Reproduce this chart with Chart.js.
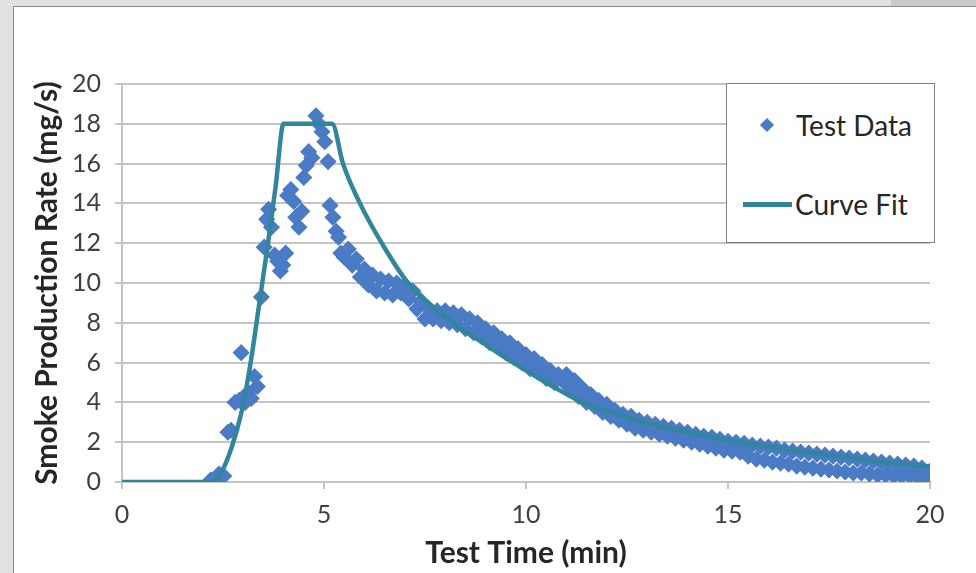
<!DOCTYPE html>
<html>
<head>
<meta charset="utf-8">
<script src="https://cdn.jsdelivr.net/npm/chart.js@4.4.1/dist/chart.umd.min.js"></script>
<style>
    html, body { margin: 0; padding: 0; }
    body { width: 976px; height: 573px; background: #e0e1e3; position: relative; overflow: hidden; font-family: Lato, "Open Sans", sans-serif; }
    #corner { position: absolute; left: 891px; top: 0; width: 85px; height: 6px; background: #c7c9cd; }
    #panel { position: absolute; left: 13px; top: 6px; right: 0; bottom: 0; background: #fff; border-left: 1.5px solid #8a8a8a; border-top: 1.5px solid #8a8a8a; }
    #chart { position: absolute; left: 0; top: 0; }
    #legend { position: absolute; left: 726px; top: 83px; width: 207px; height: 158px; border: 1.5px solid #808080; background: #fff; color: #262626; font-size: 28px; }
    .item { position: absolute; height: 32px; line-height: 32px; }
    .diamond { position: absolute; width: 10px; height: 10px; background: #4a7bc4; transform: rotate(45deg); }
    .swatch { position: absolute; height: 5px; background: #31859c; }
</style>
</head>
<body>
<div id="corner"></div>
<div id="panel"></div>
<canvas id="chart" width="976" height="573"></canvas>
<div id="legend">
    <div class="diamond" style="left:35px; top:36px;"></div>
    <div class="item" style="left:69px; top:25px;">Test Data</div>
    <div class="swatch" style="left:16px; top:118px; width:49px;"></div>
    <div class="item" style="left:68px; top:104px;">Curve Fit</div>
</div>
<script>
// Curve fit (mg/s vs min)
const fitTime = [0, 2.2, 2.4, 2.6, 2.8, 3.0, 3.2, 3.4, 3.6, 3.8, 4.0, 5.2, 5.47, 5.89, 6.43, 7.08, 8.2, 9.0, 9.68, 10.5, 11.4, 12.2, 13.0, 14.0, 15.0, 16.0, 17.5, 19.0, 20.0];
const fitRate = [0, 0, 0.3, 1.1, 2.3, 3.9, 6.2, 9.0, 11.8, 14.8, 18, 18, 16, 14, 12, 10, 8, 6.9, 6.0, 5.0, 4.0, 3.45, 2.95, 2.5, 2.1, 1.78, 1.35, 0.97, 0.78];

// Test data
const testTime = [
    2.15, 2.2, 2.27, 2.33, 2.4, 2.45, 2.52, 2.62, 2.7, 2.8, 2.9, 2.95, 3.05, 3.12, 3.2, 3.28, 3.35, 3.45, 3.52, 3.58,
    3.63, 3.7, 3.78, 3.85, 3.92, 3.98, 4.05, 4.1, 4.18, 4.25, 4.3, 4.38, 4.45, 4.5, 4.56, 4.62, 4.7, 4.8, 4.87, 4.95,
    5.02, 5.1, 5.15, 5.22, 5.3, 5.36, 5.42,
    5.5, 5.6, 5.7, 5.8, 5.9, 6.0, 6.1, 6.2, 6.3, 6.4, 6.5, 6.6, 6.7, 6.8, 6.9, 7.0, 7.1, 7.2, 7.3, 7.4,
    7.5, 7.6, 7.7, 7.8, 7.9, 8.0, 8.1, 8.2, 8.3, 8.4, 8.5, 8.6, 8.7, 8.8, 8.9, 9.0, 9.1, 9.2, 9.3, 9.4,
    9.5, 9.6, 9.7, 9.8, 9.9, 10.0, 10.1, 10.2, 10.3, 10.4, 10.5, 10.6, 10.7, 10.8, 10.9, 11.0, 11.1, 11.2, 11.3, 11.4,
    11.5, 11.6, 11.7, 11.8, 11.9, 12.0, 12.1, 12.2, 12.3, 12.4, 12.5, 12.6, 12.7, 12.8, 12.9, 13.0, 13.1, 13.2, 13.3, 13.4,
    13.5, 13.6, 13.7, 13.8, 13.9, 14.0, 14.1, 14.2, 14.3, 14.4, 14.5, 14.6, 14.7, 14.8, 14.9, 15.0, 15.1, 15.2, 15.3, 15.4,
    15.5, 15.6, 15.7, 15.8, 15.9, 16.0, 16.1, 16.2, 16.3, 16.4, 16.5, 16.6, 16.7, 16.8, 16.9, 17.0, 17.1, 17.2, 17.3, 17.4,
    17.5, 17.6, 17.7, 17.8, 17.9, 18.0, 18.1, 18.2, 18.3, 18.4, 18.5, 18.6, 18.7, 18.8, 18.9, 19.0, 19.1, 19.2, 19.3, 19.4,
    19.5, 19.6, 19.7, 19.8, 19.9, 20.0
];
const testRate = [
    0.0, 0.1, 0.0, 0.2, 0.4, 0.2, 0.3, 2.5, 2.6, 4.0, 4.1, 6.5, 4.0, 4.5, 4.2, 5.3, 4.8, 9.3, 11.8, 13.2,
    13.7, 12.8, 11.4, 11.1, 10.6, 10.9, 11.5, 14.4, 14.7, 14.1, 13.3, 12.8, 13.6, 15.3, 15.9, 16.6, 16.3, 18.4, 18.0, 17.6,
    17.1, 16.1, 13.9, 13.3, 12.6, 12.3, 11.5,
    11.3, 11.7, 10.9, 11.2, 10.3, 10.7, 9.9, 10.4, 9.6, 10.2, 9.5, 10.1, 9.4, 10.0, 9.5, 9.9, 9.2, 9.6, 8.7, 9.1,
    8.2, 8.7, 8.2, 8.6, 8.1, 8.6, 8.0, 8.5, 7.9, 8.4, 7.7, 8.2, 7.5, 8.0, 7.3, 7.7, 7.0, 7.5, 6.8, 7.2,
    6.5, 7.0, 6.3, 6.7, 6.0, 6.4, 5.7, 6.2, 5.5, 5.9, 5.2, 5.6, 5.0, 5.4, 5.1, 5.4, 4.7, 5.1, 4.3, 4.7,
    4.0, 4.4, 3.8, 4.1, 3.5, 3.9, 3.3, 3.6, 3.1, 3.4, 2.9, 3.3, 2.7, 3.1, 2.6, 3.0, 2.5, 2.9, 2.4, 2.8,
    2.3, 2.7, 2.2, 2.6, 2.1, 2.5, 2.0, 2.4, 1.9, 2.3, 1.8, 2.25, 1.7, 2.15, 1.6, 2.05, 1.55, 2.0, 1.5, 1.95,
    1.3, 1.85, 1.15, 1.8, 1.1, 1.75, 1.0, 1.7, 0.95, 1.6, 0.9, 1.55, 0.8, 1.5, 0.75, 1.45, 0.7, 1.4, 0.65, 1.35,
    0.6, 1.3, 0.55, 1.25, 0.5, 1.2, 0.45, 1.15, 0.45, 1.1, 0.4, 1.05, 0.35, 1.0, 0.35, 0.95, 0.3, 0.9, 0.3, 0.85,
    0.3, 0.8, 0.25, 0.7, 0.25, 0.55
];

const xTicks = [0, 5, 10, 15, 20];
const yTicks = [0, 2, 4, 6, 8, 10, 12, 14, 16, 18, 20];

const FONT = 'Lato, "Open Sans", sans-serif';
const GRID = '#c4c4c4';

const chart = new Chart(document.getElementById('chart').getContext('2d'), {
    type: 'scatter',
    data: {
        datasets: [
            {
                label: 'Curve Fit',
                data: fitTime.map((t, i) => ({ x: t, y: fitRate[i] })),
                showLine: true,
                borderColor: '#31859c',
                borderWidth: 4.5,
                pointRadius: 0,
                cubicInterpolationMode: 'monotone',
                order: 0
            },
            {
                label: 'Test Data',
                data: testTime.map((t, i) => ({ x: t, y: testRate[i] })),
                pointStyle: 'rectRot',
                pointRadius: 7.5,
                backgroundColor: '#4a7bc4',
                borderColor: '#4a7bc4',
                borderWidth: 1.5,
                order: 1
            }
        ]
    },
    options: {
        responsive: false,
        animation: false,
        layout: { padding: { left: 24, top: 84, right: 46, bottom: 2 } },
        plugins: { legend: { display: false }, tooltip: { enabled: false } },
        scales: {
            x: {
                type: 'linear',
                min: 0,
                max: 20,
                afterBuildTicks: s => { s.ticks = xTicks.map(v => ({ value: v })); },
                afterFit: s => { s.height = 89; },
                ticks: { color: '#404040', font: { family: FONT, size: 25 }, padding: 11 },
                grid: { drawOnChartArea: false, drawTicks: true, tickLength: 7, color: GRID, lineWidth: 2 },
                border: { color: GRID, width: 2 },
                title: { display: true, text: 'Test Time (min)', color: '#262626', font: { family: FONT, size: 30, weight: 'bold' }, padding: { top: 0, bottom: 0 } }
            },
            y: {
                min: 0,
                max: 20,
                afterBuildTicks: s => { s.ticks = yTicks.map(v => ({ value: v })); },
                afterFit: s => { s.width = 98; },
                ticks: { color: '#404040', font: { family: FONT, size: 25 }, padding: 14 },
                grid: { color: GRID, lineWidth: 2, tickLength: 7 },
                border: { color: GRID, width: 2 },
                title: { display: true, text: 'Smoke Production Rate (mg/s)', color: '#262626', font: { family: FONT, size: 30, weight: 'bold' }, padding: { top: 5, bottom: 0 } }
            }
        }
    }
});
</script>
</body>
</html>
